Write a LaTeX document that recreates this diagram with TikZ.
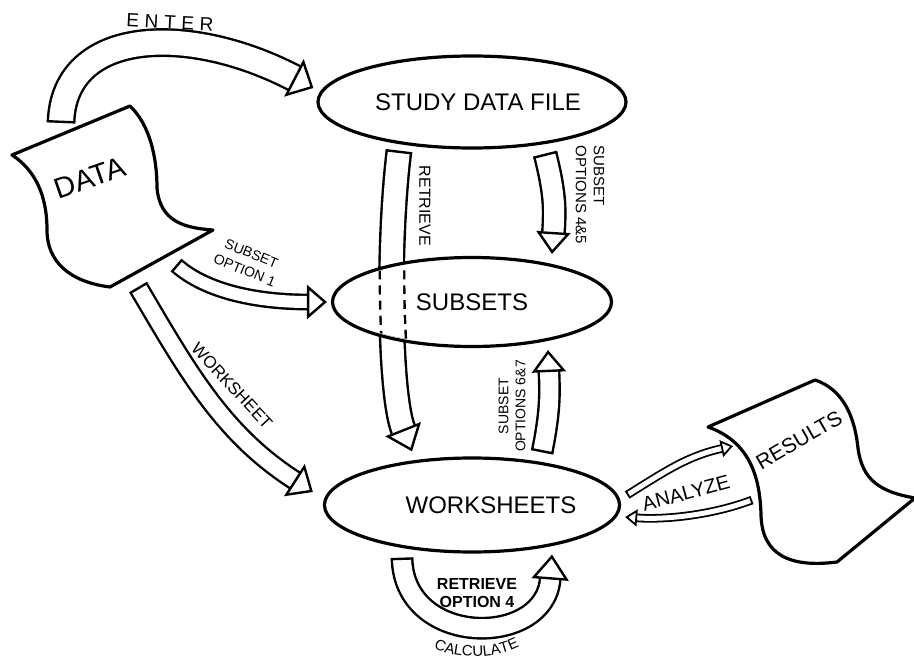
\documentclass[tikz,border=0pt]{standalone}
\usepackage{fontspec}
\setmainfont{Liberation Sans}
\usetikzlibrary{shapes.geometric, arrows.meta, decorations.text}
\pgfdeclarelayer{bg}
\pgfsetlayers{bg,main}
\begin{document}
\begin{tikzpicture}[x=1pt, y=-1pt,
  ell/.style={ellipse, draw, line width=3.2pt, fill=white, minimum width=279pt,
    minimum height=92pt, inner sep=0pt, font=\fontsize{24}{26}\selectfont},
  doc/.style={draw, line width=3.2pt, fill=white, line join=round},
  blk/.style={line width=2.4pt, double=white, double distance=#1, line join=round},
  hd/.style n args={3}{{Bar[width=#3, line width=2.4pt]}-{Triangle[length=#1, width=#2, fill=white, line width=2.4pt]}},
  thin/.style={line width=1.8pt, double=white, double distance=#1, line join=round},
  thd/.style={{Bar[width=8.6pt, line width=1.8pt]}-{Triangle[length=12pt, width=17pt, fill=white, line width=1.8pt]}},
  lbl/.style={inner sep=0pt}
]
\begin{pgfonlayer}{bg}
\fill[white] (0,0) rectangle (914,658);
\end{pgfonlayer}
\useasboundingbox (0,0) rectangle (914,658);

% ellipses
\node[ell] (sdf) at (472,102) {\hspace*{12pt}STUDY DATA FILE};
\node[ell, minimum height=89pt] (sub) at (472,302) {SUBSETS};
\node[ell, minimum height=94pt] (ws) at (472,505) {\hspace*{38pt}WORKSHEETS};

% DATA document
\draw[doc] (12,155) -- (130,106) .. controls (150,125) and (157,158) .. (157,188)
  .. controls (160,222) and (185,228) .. (213,230) -- (110,287)
  .. controls (70,282) and (47,262) .. (47,230)
  .. controls (47,195) and (35,170) .. (12,155) -- cycle;
\node[lbl, rotate=19, font=\fontsize{29}{30}\selectfont] (data) at (90,178) {DATA};
\coordinate (dEnter) at (61,123);
\coordinate (dSub) at (176,265);
\coordinate (dWs) at (138,287);

% RESULTS document
\draw[doc] (708,427) -- (815,380) .. controls (845,390) and (855,420) .. (858,448)
  .. controls (862,480) and (880,492) .. (915,498) -- (837,562)
  .. controls (790,568) and (762,555) .. (761,515)
  .. controls (760,470) and (745,440) .. (708,427) -- cycle;
\node[lbl, rotate=30, font=\fontsize{21}{24}\selectfont] (res) at (799,440) {RESULTS};
\coordinate (rIn) at (733,446);
\coordinate (rOut) at (752,500);

% block arrows
\begin{pgfonlayer}{bg}
\draw[blk=24pt, hd={22pt}{42pt}{28.8pt}] (dEnter) .. controls +(4,-95) and +(-125,-65) .. ([shift={(-3,-14)}]sdf.west);
\draw[blk=12pt, hd={20pt}{34pt}{16.8pt}] (dSub) .. controls +(35,30) and +(-60,0) .. ([shift={(-4,0)}]sub.west);
\draw[blk=16pt, hd={22pt}{38pt}{20.8pt}] (dWs) .. controls +(50,85) and +(-90,-58) .. ([shift={(-10,-13)}]ws.west);
\draw[blk=22pt, hd={24pt}{38pt}{26.8pt}] ([shift={(-73,1)}]sdf.south) .. controls +(-12,100) and +(-22,-55) .. ([shift={(-60,-5)}]ws.north);
\draw[blk=20pt, hd={22pt}{34pt}{24.8pt}] ([shift={(73,4)}]sdf.south) .. controls +(10,40) and +(3,-45) .. ([shift={(80,-2)}]sub.north);
\draw[blk=18pt, hd={22pt}{34pt}{22.8pt}] ([shift={(70,-4)}]ws.north) .. controls +(8,-40) and +(2,45) .. ([shift={(76,2)}]sub.south);
\draw[blk=18pt, hd={25pt}{37pt}{22.8pt}] ([shift={(-70,4)}]ws.south) .. controls +(3,90) and +(-7,93) .. ([shift={(80,1)}]ws.south);
\draw[thin=5pt, thd] ([shift={(6,-10)}]ws.east) .. controls +(40,-25) and +(-45,10) .. (rIn);
\draw[thin=5pt, thd] (rOut) .. controls +(-40,15) and +(40,3) .. ([shift={(4,12)}]ws.east);
\end{pgfonlayer}

% dashed part of RETRIEVE inside SUBSETS
\begin{scope}
\clip (sub.center) ellipse [x radius=137pt, y radius=42pt];
\draw[line width=26.8pt, dash pattern=on 9pt off 6pt] ([shift={(-73,1)}]sdf.south) .. controls +(-12,100) and +(-22,-55) .. ([shift={(-60,-5)}]ws.north);
\draw[line width=22pt, white] ([shift={(-73,1)}]sdf.south) .. controls +(-12,100) and +(-22,-55) .. ([shift={(-60,-5)}]ws.north);
\end{scope}

% labels
\node[lbl, rotate=-3, font=\fontsize{19}{20}\selectfont\addfontfeatures{LetterSpace=30}] (lenter) at (170,22) {ENTER};
\node[lbl, rotate=-22, align=center, font=\fontsize{14}{18}\selectfont] (lsub1) at (248,262) {SUBSET\\OPTION 1};
\node[lbl, rotate=-47, font=\fontsize{17}{17}\selectfont] (lws) at (232,386) {WORKSHEET};
\node[lbl, rotate=-90, font=\fontsize{16}{16}\selectfont] (lret) at (425,206) {RETRIEVE};
\node[lbl, rotate=-90, align=left, font=\fontsize{15}{18}\selectfont] (l45) at (590,195) {SUBSET\\OPTIONS 4\&5};
\node[lbl, rotate=90, align=center, font=\fontsize{14}{17}\selectfont] (l67) at (512,406) {SUBSET\\OPTIONS 6\&7};
\node[lbl, align=center, font=\bfseries\fontsize{16}{18}\selectfont] (lopt4) at (477,593) {RETRIEVE\\OPTION 4};
\node[lbl, rotate=15, font=\fontsize{20}{20}\selectfont] (lan) at (686,493) {ANALYZE};
\path[decorate, decoration={text along path, text align=center,
  text={|\fontsize{15}{15}\selectfont|CALCULATE}}]
  (418,638) .. controls (445,663) and (505,663) .. (535,636);
\end{tikzpicture}
\end{document}
